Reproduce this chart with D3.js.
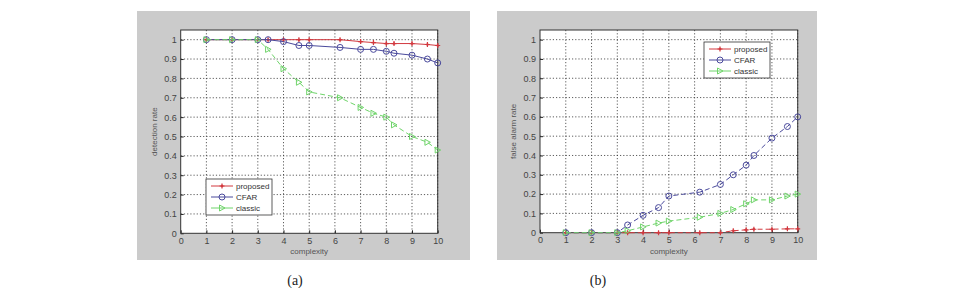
<!DOCTYPE html>
<html>
<head>
<meta charset="utf-8">
<script src="https://cdnjs.cloudflare.com/ajax/libs/d3/7.8.5/d3.min.js"></script>
<style>
  body { margin: 0; background: #fff; }
  svg { display: block; }
</style>
</head>
<body>
<script>
// shared x positions (complexity)
var complexity = [1, 2, 3, 3.4, 4, 4.6, 5, 6.2, 7, 7.5, 8, 8.3, 9, 9.6, 10];

// (a) detection rate
var det_proposed = [1, 1, 1, 1, 1, 1, 1, 1, 0.99, 0.985, 0.98, 0.98, 0.98, 0.975, 0.97];
var det_cfar     = [1, 1, 1, 1, 0.99, 0.97, 0.97, 0.96, 0.95, 0.95, 0.94, 0.93, 0.92, 0.90, 0.88];
var det_classic  = [1, 1, 1, 0.95, 0.85, 0.78, 0.73, 0.70, 0.65, 0.62, 0.60, 0.56, 0.50, 0.47, 0.43];

// (b) false alarm rate
var fa_proposed = [0, 0, 0, 0, 0, 0, 0, 0, 0, 0.01, 0.015, 0.018, 0.018, 0.02, 0.02];
var fa_cfar     = [0, 0, 0, 0.04, 0.09, 0.13, 0.19, 0.21, 0.25, 0.30, 0.35, 0.40, 0.49, 0.55, 0.60];
var fa_classic  = [0, 0, 0, 0.01, 0.03, 0.05, 0.06, 0.08, 0.10, 0.12, 0.15, 0.17, 0.17, 0.19, 0.20];

var xTicks = [0, 1, 2, 3, 4, 5, 6, 7, 8, 9, 10];
var yTicks = [0, 0.1, 0.2, 0.3, 0.4, 0.5, 0.6, 0.7, 0.8, 0.9, 1];
var seriesNames = ["proposed", "CFAR", "classic"];

var red = "#d2393f", blue = "#4a4a9c", green = "#6fd46a";

var svg = d3.select("body").append("svg")
    .attr("width", 961)
    .attr("height", 288);

function draw_panel(opts) {
    var g = svg.append("g");

    // gray figure background
    g.append("rect")
        .attr("x", opts.bg[0]).attr("y", opts.bg[1])
        .attr("width", opts.bg[2]).attr("height", opts.bg[3])
        .attr("fill", "#cbcbcb");

    var x = d3.scaleLinear().domain([0, 10]).range([opts.left, opts.right]);
    var y = d3.scaleLinear().domain([0, 1.05]).range([opts.bottom, opts.top]);

    g.append("rect")
        .attr("x", opts.left).attr("y", opts.top)
        .attr("width", opts.right - opts.left).attr("height", opts.bottom - opts.top)
        .attr("fill", "#fff");

    // dotted grid
    g.selectAll(".gx").data(xTicks.slice(1)).enter().append("line")
        .attr("x1", d => x(d)).attr("x2", d => x(d))
        .attr("y1", opts.top).attr("y2", opts.bottom)
        .attr("stroke", "#333").attr("stroke-width", 0.8)
        .attr("stroke-dasharray", "1.2,2");
    g.selectAll(".gy").data(yTicks.slice(1)).enter().append("line")
        .attr("y1", d => y(d)).attr("y2", d => y(d))
        .attr("x1", opts.left).attr("x2", opts.right)
        .attr("stroke", "#333").attr("stroke-width", 0.8)
        .attr("stroke-dasharray", "1.2,2");

    // axes with inward ticks
    var xAxis = g.append("g").attr("transform", "translate(0," + opts.bottom + ")")
        .call(d3.axisBottom(x).tickValues(xTicks).tickSizeInner(-3).tickSizeOuter(0).tickPadding(4)
            .tickFormat(d3.format("d")));
    var yAxis = g.append("g").attr("transform", "translate(" + opts.left + ",0)")
        .call(d3.axisLeft(y).tickValues(yTicks).tickSizeInner(-3).tickSizeOuter(0).tickPadding(4)
            .tickFormat(d => d === 0 ? "0" : d3.format(".1f")(d).replace(/\.0$/, "")));
    [xAxis, yAxis].forEach(function (a) {
        a.select(".domain").remove();
        a.selectAll("line").attr("stroke", "#222");
        a.selectAll("text").attr("fill", "#444")
            .style("font-family", "Liberation Sans, Arial, sans-serif").style("font-size", "9px");
    });

    // box
    g.append("rect")
        .attr("x", opts.left).attr("y", opts.top)
        .attr("width", opts.right - opts.left).attr("height", opts.bottom - opts.top)
        .attr("fill", "none").attr("stroke", "#333").attr("stroke-width", 1);

    g.append("text")
        .attr("x", (opts.left + opts.right) / 2).attr("y", opts.bottom + 21)
        .attr("text-anchor", "middle").attr("fill", "#555")
        .style("font-family", "Liberation Sans, Arial, sans-serif").style("font-size", "8px")
        .text("complexity");
    g.append("text")
        .attr("transform", "translate(" + (opts.left - 24) + "," + ((opts.top + opts.bottom) / 2) + ") rotate(-90)")
        .attr("text-anchor", "middle").attr("fill", "#555")
        .style("font-family", "Liberation Sans, Arial, sans-serif").style("font-size", "8px")
        .text(opts.ylabel);

    var line = d3.line().x(d => x(d[0])).y(d => y(d[1]));
    var cols = [red, blue, green];

    opts.series.forEach(function (vals, si) {
        var pts = complexity.map((c, i) => [c, vals[i]]);
        g.append("path").datum(pts)
            .attr("d", line).attr("fill", "none")
            .attr("stroke", cols[si]).attr("stroke-width", 1)
            .attr("stroke-dasharray", opts.dash[si]);
        pts.forEach(function (p) {
            draw_marker(g, si, x(p[0]), y(p[1]));
        });
    });

    // legend
    var lg = g.append("g");
    lg.append("rect")
        .attr("x", opts.legend[0]).attr("y", opts.legend[1])
        .attr("width", 66).attr("height", 36)
        .attr("fill", "#fff").attr("stroke", "#333").attr("stroke-width", 0.8);
    seriesNames.forEach(function (name, si) {
        var ly = opts.legend[1] + 7 + si * 11;
        var lx = opts.legend[0] + 5;
        lg.append("line").attr("x1", lx).attr("x2", lx + 22).attr("y1", ly).attr("y2", ly)
            .attr("stroke", cols[si]).attr("stroke-width", 1);
        draw_marker(lg, si, lx + 11, ly);
        lg.append("text").attr("x", lx + 25).attr("y", ly + 3)
            .attr("fill", "#333")
            .style("font-family", "Liberation Sans, Arial, sans-serif").style("font-size", "8px")
            .text(name);
    });

    svg.append("text")
        .attr("x", opts.caption[0]).attr("y", opts.caption[1])
        .attr("text-anchor", "middle").attr("fill", "#222")
        .style("font-family", "Liberation Serif, Times New Roman, serif").style("font-size", "14px")
        .text(opts.label);
}

function draw_marker(g, si, cx, cy) {
    if (si === 0) {
        // red star-ish plus
        g.append("path")
            .attr("d", "M" + (cx - 2.5) + "," + cy + "h5M" + cx + "," + (cy - 2.5) + "v5")
            .attr("stroke", red).attr("stroke-width", 1.2);
        g.append("circle").attr("cx", cx).attr("cy", cy).attr("r", 1.2).attr("fill", red);
    } else if (si === 1) {
        g.append("circle").attr("cx", cx).attr("cy", cy).attr("r", 3)
            .attr("fill", "none").attr("stroke", blue).attr("stroke-width", 1);
    } else {
        g.append("path")
            .attr("d", "M" + (cx - 2.5) + "," + (cy - 3) + "L" + (cx + 3) + "," + cy + "L" + (cx - 2.5) + "," + (cy + 3) + "Z")
            .attr("fill", "none").attr("stroke", green).attr("stroke-width", 1);
    }
}

draw_panel({
    bg: [137, 11, 333, 249],
    left: 180.7, right: 437.7, top: 30, bottom: 233.3,
    ylabel: "detection rate",
    series: [det_proposed, det_cfar, det_classic],
    dash: [null, null, "5,3"],
    legend: [206, 179],
    caption: [295, 285],
    label: "(a)"
});

draw_panel({
    bg: [497, 11, 320, 249],
    left: 540, right: 797.7, top: 30, bottom: 232.7,
    ylabel: "false alarm rate",
    series: [fa_proposed, fa_cfar, fa_classic],
    dash: ["5,3", "5,3", "5,3"],
    legend: [704, 42],
    caption: [598, 285],
    label: "(b)"
});
</script>
</body>
</html>
